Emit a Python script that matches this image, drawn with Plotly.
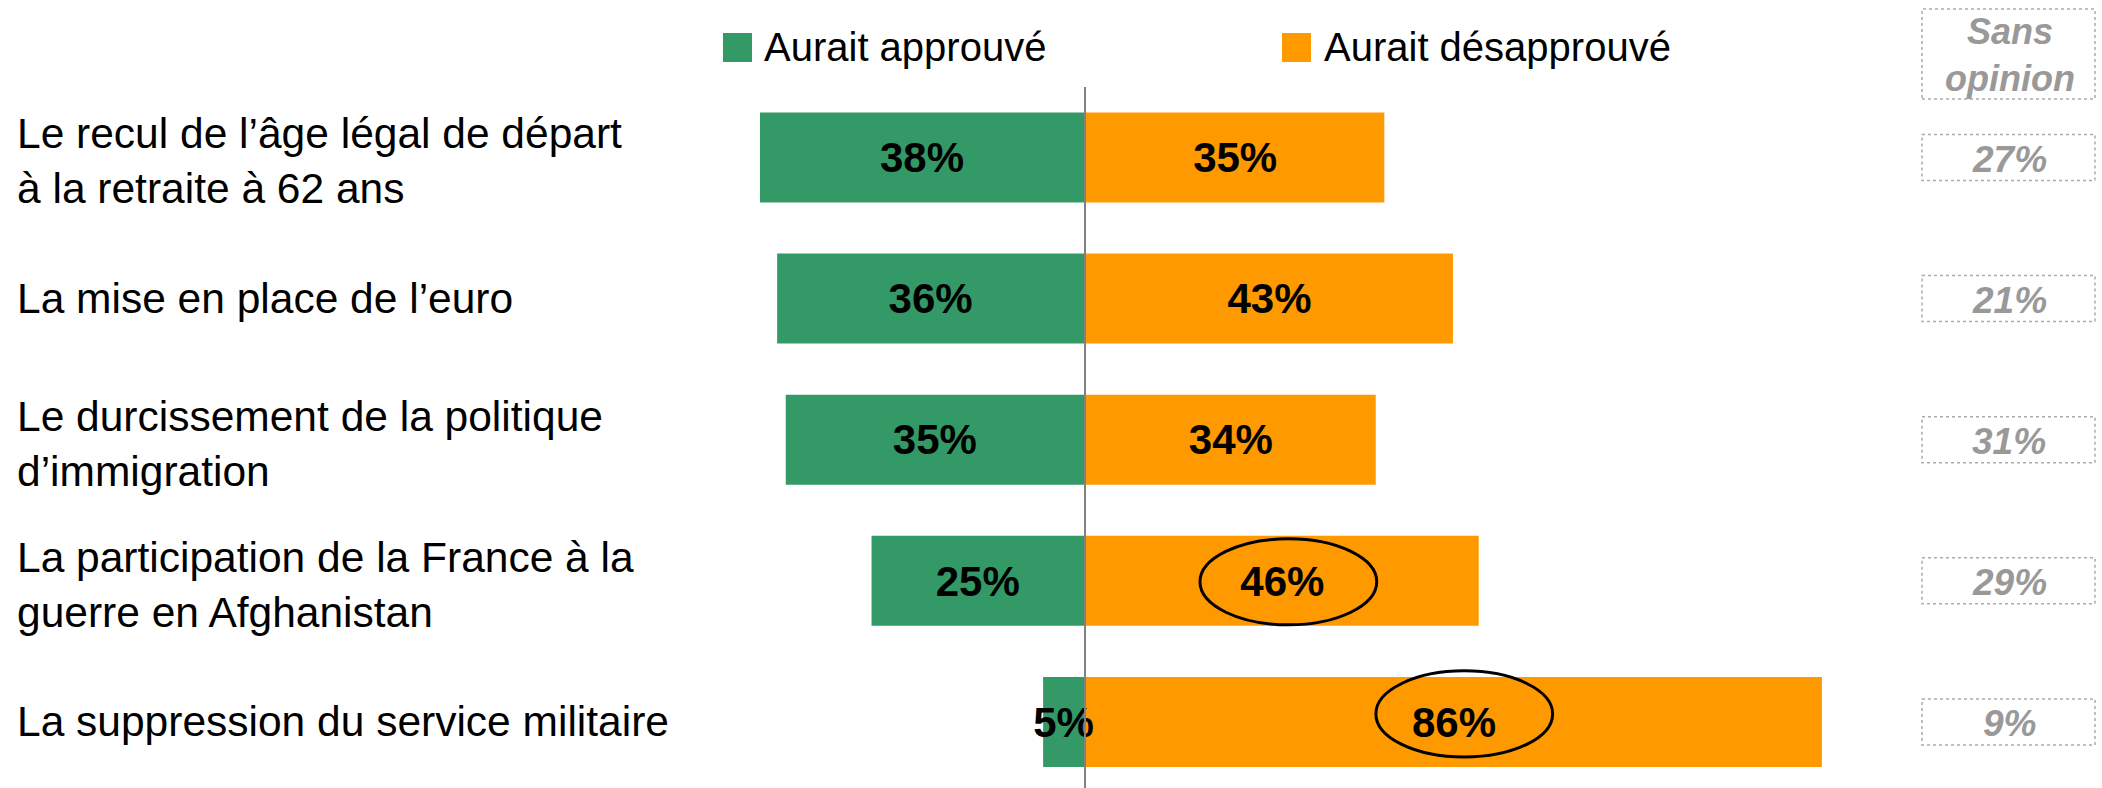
import plotly.graph_objects as go

# ---------------- data ----------------
categories = [
    "Le recul de l’âge légal de départ<br>à la retraite à 62 ans",
    "La mise en place de l’euro",
    "Le durcissement de la politique<br>d’immigration",
    "La participation de la France à la<br>guerre en Afghanistan",
    "La suppression du service militaire",
]
approve = [38, 36, 35, 25, 5]
disapprove = [35, 43, 34, 46, 86]
no_opinion = [27, 21, 31, 29, 9]
highlighted = [False, False, False, True, True]  # circled "désapprouvé" values

legend_labels = ["Aurait approuvé", "Aurait désapprouvé"]
no_opinion_title = "Sans<br>opinion"

# ---------------- style ----------------
W, H = 2102, 788
FONT = "Liberation Sans, Arial, sans-serif"
GREEN = "#339966"
ORANGE = "#FF9900"
GREY_TXT = "#999999"
GREY_BOX = "#ababab"
XMIN, XMAX = -126.46, 118.53
YRANGE = [4.468, -1.116]
BAR_W = 0.652
LABEL_DY = 0.03
ELL_RX, ELL_RY = 10.3, 0.305
ELL_DX = [0, 0, 0, 0.7, 1.2]
ELL_DY = [0, 0, 0, 0.007, -0.057]


def px(x):
    return x / W


def py(y):
    return 1 - y / H


idx = list(range(len(categories)))

fig = go.Figure()

fig.add_trace(go.Bar(
    y=idx, x=[-v for v in approve], orientation="h", width=BAR_W,
    marker=dict(color=GREEN, line=dict(color="white", width=2)),
    name=legend_labels[0], hoverinfo="skip", showlegend=False,
))
fig.add_trace(go.Bar(
    y=idx, x=disapprove, orientation="h", width=BAR_W,
    marker=dict(color=ORANGE, line=dict(color="white", width=2)),
    name=legend_labels[1], hoverinfo="skip", showlegend=False,
))

# bar value labels (centered in each bar)
fig.add_trace(go.Scatter(
    y=[i + LABEL_DY for i in idx], x=[-v / 2 for v in approve], mode="text",
    text=[f"{v}%" for v in approve],
    textfont=dict(family=FONT, size=42, color="black", weight="bold"),
    hoverinfo="skip", showlegend=False,
))
fig.add_trace(go.Scatter(
    y=[i + LABEL_DY for i in idx], x=[v / 2 for v in disapprove], mode="text",
    text=[f"{v}%" for v in disapprove],
    textfont=dict(family=FONT, size=42, color="black", weight="bold"),
    hoverinfo="skip", showlegend=False,
))

shapes = []
annotations = []

# centre axis line
shapes.append(dict(type="line", xref="x", yref="paper", x0=0, x1=0,
                   y0=0, y1=py(87), line=dict(color="#808080", width=2)))

# ellipses around highlighted values
for i, (v, h) in enumerate(zip(disapprove, highlighted)):
    if h:
        cx = v / 2 + ELL_DX[i]
        cy = i + ELL_DY[i]
        shapes.append(dict(type="circle", xref="x", yref="y",
                           x0=cx - ELL_RX, x1=cx + ELL_RX,
                           y0=cy - ELL_RY, y1=cy + ELL_RY,
                           line=dict(color="black", width=3)))

# category labels
for i, c in enumerate(categories):
    two_lines = "<br>" in c
    annotations.append(dict(xref="paper", yref="y", x=px(15), y=i,
                            xanchor="left", yanchor="middle", align="left",
                            text=c, showarrow=False,
                            yshift=-4 if two_lines else 0,
                            font=dict(family=FONT, size=42.5, color="black")))

# no-opinion boxes and values
for i, v in enumerate(no_opinion):
    shapes.append(dict(type="rect", xref="paper", yref="y",
                       x0=px(1922), x1=px(2095), y0=i - 0.163, y1=i + 0.163,
                       line=dict(color=GREY_BOX, width=1.5, dash="dot")))
    annotations.append(dict(xref="paper", yref="y", x=px(2009), y=i,
                            xanchor="center", yanchor="middle", yshift=-2,
                            text=f"{v}%", showarrow=False,
                            font=dict(family=FONT, size=37, color=GREY_TXT,
                                      weight="bold", style="italic")))

# no-opinion header
shapes.append(dict(type="rect", xref="paper", yref="paper",
                   x0=px(1922), x1=px(2095), y0=py(99), y1=py(9),
                   line=dict(color=GREY_BOX, width=1.5, dash="dot")))
annotations.append(dict(xref="paper", yref="paper", x=px(2010), y=py(55),
                        xanchor="center", yanchor="middle",
                        text=no_opinion_title, showarrow=False,
                        font=dict(family=FONT, size=36, color=GREY_TXT,
                                  weight="bold", style="italic")))

# custom legend
for (x0, x1, tx), col, lab in zip([(723, 752, 762), (1282, 1311, 1322)],
                                  [GREEN, ORANGE], legend_labels):
    shapes.append(dict(type="rect", xref="paper", yref="paper",
                       x0=px(x0), x1=px(x1), y0=py(62), y1=py(33),
                       fillcolor=col, line=dict(width=0)))
    annotations.append(dict(xref="paper", yref="paper", x=px(tx), y=py(47),
                            xanchor="left", yanchor="middle",
                            text=lab, showarrow=False,
                            font=dict(family=FONT, size=40, color="black")))

fig.update_layout(
    width=W, height=H,
    margin=dict(l=0, r=0, t=0, b=0),
    paper_bgcolor="white", plot_bgcolor="white",
    barmode="overlay", showlegend=False,
    xaxis=dict(range=[XMIN, XMAX], visible=False, fixedrange=True),
    yaxis=dict(range=YRANGE, visible=False, fixedrange=True),
    shapes=shapes, annotations=annotations,
    font=dict(family=FONT),
)

fig.write_html(
    "out.html",
    config={"displayModeBar": False},
    post_script="document.body.style.margin='0';document.body.style.overflow='hidden';",
)
